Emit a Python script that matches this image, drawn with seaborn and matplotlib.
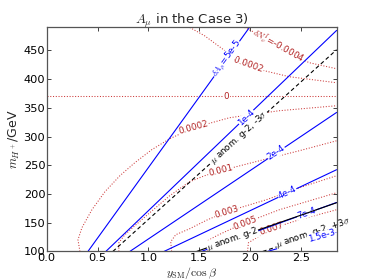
import numpy as np
import matplotlib
matplotlib.use("Agg")
import matplotlib.pyplot as plt
import seaborn as sns

# delta A_mu contours (blue, solid)
dA_labels = ["$\\delta A_\\mu$=5e-5", "1e-4", "2e-4", "4e-4", "7e-4", "1.5e-3"]
dA_x = [[0.405, 1.993], [0.581, 2.85], [0.817, 2.85], [1.153, 2.85], [1.520, 2.85], [2.170, 2.85]]
dA_y = [[100, 490], [100, 484.8], [100, 342.0], [100, 242.3], [100, 185.3], [100, 134.3]]
dA_label_x = [1.77, 1.961, 2.258, 2.366, 2.552, 2.70]

# delta N_nu contours (red, dotted)
dN_labels = ["$\\delta N_\\nu^I$=-0.0004", "-0.0002", "0", "0.0002", "0.001", "0.003", "0.005", "0.007"]
dN_x = [
    [1.944, 2.111, 2.277, 2.434, 2.581, 2.85],
    [1.406, 1.552, 1.699, 1.846, 1.974, 2.140, 2.385, 2.85],
    [0.0, 2.85],
    [0.326, 0.307, 0.346, 0.444, 0.572, 0.719, 0.866, 1.032, 1.209, 1.444, 1.797, 2.287, 2.85],
    [0.709, 0.709, 0.768, 0.866, 1.013, 1.209, 1.405, 1.552, 1.709, 2.091, 2.483, 2.85],
    [1.228, 1.219, 1.268, 1.405, 1.581, 1.768, 2.159, 2.483, 2.85],
    [1.581, 1.581, 1.670, 1.797, 1.954, 2.287, 2.85],
    [1.974, 1.983, 2.062, 2.209, 2.483, 2.85],
]
dN_y = [
    [490, 475.5, 456.4, 440.8, 428.6, 418.1],
    [490, 475.5, 456.4, 437.2, 425.1, 414.6, 404.2, 393.7],
    [370, 370],
    [100, 120.4, 141.4, 172.6, 204.0, 231.8, 254.5, 277.1, 296.2, 315.4, 332.8, 345.0, 353.7],
    [100, 115.1, 129.1, 144.8, 167.4, 197.0, 221.4, 231.8, 240.5, 257.9, 275.3, 292.7],
    [100, 116.9, 129.1, 139.5, 155.2, 169.1, 190.0, 210.9, 231.8],
    [100, 118.6, 127.3, 137.8, 150.0, 172.6, 202.2],
    [100, 115.1, 123.9, 139.5, 155.2, 172.6],
]
dN_label_x = [2.277, 1.974, 1.768, 1.444, 1.709, 1.768, 1.954, 2.209]

# muon g-2 contours (black): -3 sigma, central, +3 sigma
g2_labels = ["$\\mu$ anom. g-2, -3$\\sigma$", "$\\mu$ anom. g-2", "$\\mu$ anom. g-2, +3$\\sigma$"]
g2_x = [[0.650, 2.85], [1.474, 2.85], [2.124, 2.85]]
g2_y = [[100, 451.2], [100, 184.8], [100, 142.0]]
g2_styles = ["dashed", "solid", "dashed"]
g2_label_x = [1.895, 1.826, 2.62]

x_ticks = [0.0, 0.5, 1.0, 1.5, 2.0, 2.5]
y_ticks = [100, 150, 200, 250, 300, 350, 400, 450]


def put_label(ax, xs, ys, x, text, color, z, size=6.3, dy=0.0):
    xs = np.asarray(xs, float)
    ys = np.asarray(ys, float)
    y, ang = ys[0], 0.0
    for i in range(len(xs) - 1, 0, -1):
        a, b = xs[i - 1], xs[i]
        if a != b and min(a, b) <= x <= max(a, b):
            t = (x - a) / (b - a)
            y = ys[i - 1] + t * (ys[i] - ys[i - 1])
            p0 = ax.transData.transform((a, ys[i - 1]))
            p1 = ax.transData.transform((b, ys[i]))
            ang = np.degrees(np.arctan2(p1[1] - p0[1], p1[0] - p0[0]))
            break
    if ang > 90:
        ang -= 180
    if ang < -90:
        ang += 180
    ax.text(x, y + dy, text, rotation=ang, rotation_mode="anchor", ha="center", va="center",
            color=color, fontsize=size, zorder=z,
            bbox=dict(boxstyle="square,pad=0.02", fc="white", ec="none"))


sns.set_theme(style="ticks")
plt.rcParams["font.family"] = ["DejaVu Sans"]
plt.rcParams["mathtext.fontset"] = "cm"

fig = plt.figure(figsize=(3.74, 2.8), dpi=100)
fig.subplots_adjust(left=0.125, right=0.9, bottom=0.102, top=0.902)
ax = fig.add_subplot(111)
ax.set_xlim(0, 2.85)
ax.set_ylim(100, 490)

red = "#cc3a3a"
for xs, ys in zip(dN_x, dN_y):
    sns.lineplot(x=xs, y=ys, ax=ax, sort=False, estimator=None, color=red,
                 linestyle=":", linewidth=0.75, zorder=2)
for xs, ys in zip(dA_x, dA_y):
    sns.lineplot(x=xs, y=ys, ax=ax, sort=False, estimator=None, color="blue",
                 linewidth=0.8, zorder=2.2)
for xs, ys, st in zip(g2_x, g2_y, g2_styles):
    ls = (0, (3.5, 2.5)) if st == "dashed" else "-"
    sns.lineplot(x=xs, y=ys, ax=ax, sort=False, estimator=None, color="black",
                 linestyle=ls, linewidth=0.8, zorder=2.4)

for xs, ys, lx, t in zip(dN_x, dN_y, dN_label_x, dN_labels):
    put_label(ax, xs, ys, lx, t, "#b22222", 2.1)
for xs, ys, lx, t in zip(g2_x, g2_y, g2_label_x, g2_labels):
    put_label(ax, xs, ys, lx, t, "black", 2.5, dy=4 if "+3" in t else 0)
for xs, ys, lx, t in zip(dA_x, dA_y, dA_label_x, dA_labels):
    put_label(ax, xs, ys, lx, t, "blue", 2.6 if t == "1.5e-3" else 2.3)

ax.set_xticks(x_ticks)
ax.set_xticklabels([f"{v:.1f}" for v in x_ticks])
ax.set_yticks(y_ticks)
ax.set_yticklabels([str(v) for v in y_ticks])
ax.tick_params(direction="in", top=True, right=True, length=3, width=0.6,
               labelsize=8.2, pad=1, colors="#222222", labelcolor="black")
for s in ax.spines.values():
    s.set_color("#555555")
    s.set_linewidth(0.9)

ax.set_title("$A_\\mu$ in the Case 3)", fontsize=9.5, pad=3)
ax.set_xlabel("$y_{\\rm SM}/\\cos\\beta$", fontsize=8.5)
ax.xaxis.set_label_coords(0.5, -0.06)
ax.set_ylabel("$m_{H^+}$/GeV", fontsize=9, labelpad=1)

fig.savefig("out.png", dpi=100)
